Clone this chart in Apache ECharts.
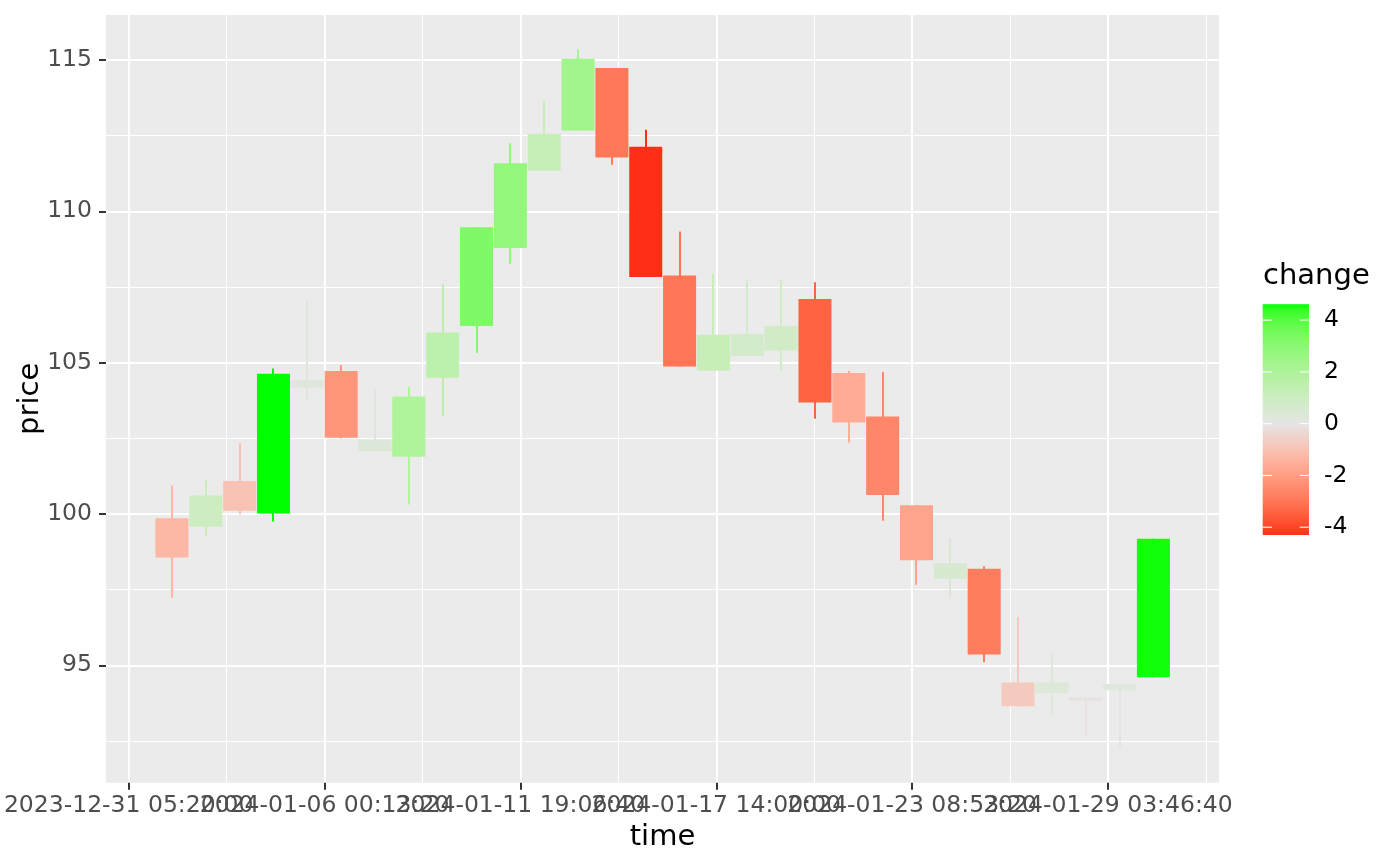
<!DOCTYPE html>
<html>
<head>
<meta charset="utf-8">
<script src="https://cdn.jsdelivr.net/npm/echarts@6.0.0/dist/echarts.min.js"></script>
<style>
html,body{margin:0;padding:0;background:#ffffff;}
#chart{width:1400px;height:866px;}
</style>
</head>
<body>
<div id="chart"></div>
<script>
// ---------- data ----------
const times = [
  '2024-01-01T12:00:00Z','2024-01-02T12:00:00Z','2024-01-03T12:00:00Z','2024-01-04T12:00:00Z','2024-01-05T12:00:00Z',
  '2024-01-06T12:00:00Z','2024-01-07T12:00:00Z','2024-01-08T12:00:00Z','2024-01-09T12:00:00Z','2024-01-10T12:00:00Z',
  '2024-01-11T12:00:00Z','2024-01-12T12:00:00Z','2024-01-13T12:00:00Z','2024-01-14T12:00:00Z','2024-01-15T12:00:00Z',
  '2024-01-16T12:00:00Z','2024-01-17T12:00:00Z','2024-01-18T12:00:00Z','2024-01-19T12:00:00Z','2024-01-20T12:00:00Z',
  '2024-01-21T12:00:00Z','2024-01-22T12:00:00Z','2024-01-23T12:00:00Z','2024-01-24T12:00:00Z','2024-01-25T12:00:00Z',
  '2024-01-26T12:00:00Z','2024-01-27T12:00:00Z','2024-01-28T12:00:00Z','2024-01-29T12:00:00Z','2024-01-30T12:00:00Z'
];
const openPrices  = [99.86, 99.58, 101.09, 100.02, 104.18, 104.72, 102.07, 101.89, 104.50, 106.21,
                     108.79, 111.35, 112.67, 114.73, 112.13, 107.88, 104.74, 105.22, 105.40, 107.10,
                     104.66, 103.22, 100.29, 97.86, 98.19, 94.43, 94.09, 93.94, 94.18, 94.61];
const closePrices = [98.56, 100.61, 100.11, 104.63, 104.43, 102.52, 102.45, 103.88, 106.00, 109.47,
                     111.59, 112.56, 115.04, 111.78, 107.83, 104.87, 105.92, 105.95, 106.21, 103.68,
                     103.02, 100.63, 98.47, 98.37, 95.36, 93.65, 94.44, 93.83, 94.38, 99.18];
const lowPrices   = [97.23, 99.25, 99.99, 99.75, 103.77, 102.49, 102.07, 100.31, 103.24, 105.33,
                     108.27, 111.35, 112.67, 111.54, 107.83, 104.87, 104.74, 105.22, 104.74, 103.15,
                     102.36, 99.78, 97.66, 97.23, 95.11, 93.65, 93.39, 92.66, 92.25, 94.61];
const highPrices  = [100.94, 101.12, 102.34, 104.81, 107.04, 104.92, 104.13, 104.20, 107.60, 109.47,
                     112.25, 113.67, 115.35, 114.73, 112.69, 109.33, 107.94, 107.72, 107.74, 107.66,
                     104.73, 104.69, 100.29, 99.21, 98.27, 96.60, 95.37, 93.94, 94.38, 99.18];

// axis breaks (seconds since epoch) and their labels
const xTickValues = [1704000000, 1704500000, 1705000000, 1705500000, 1706000000, 1706500000];
const xTickLabels = ['2023-12-31 05:20:00', '2024-01-06 00:13:20', '2024-01-11 19:06:40',
                     '2024-01-17 14:00:00', '2024-01-23 08:53:20', '2024-01-29 03:46:40'];
const yTickValues = [95, 100, 105, 110, 115];
const yTickLabels = ['95', '100', '105', '110', '115'];
const legendTickValues = [-4, -2, 0, 2, 4];
const legendTickLabels = ['-4', '-2', '0', '2', '4'];

// ---------- style constants ----------
const FONT = 'DejaVu Sans';
const X_MIN = 1703942050, X_MAX = 1706783470;
const Y_MIN = 91.123, Y_MAX = 116.485;
const BODY_SEC = 84300;
const LOW_COL = '#FF0000', MID_COL = '#E5E5E5', HIGH_COL = '#00FF00';

// ---------- derived ----------
const tSec = times.map(s => Date.parse(s) / 1000);
const changes = openPrices.map((o, i) => closePrices[i] - o);
const chgMin = Math.min(...changes), chgMax = Math.max(...changes);
const chgAbs = Math.max(Math.abs(chgMin), Math.abs(chgMax));
const candleData = tSec.map((t, i) => [t, openPrices[i], closePrices[i], lowPrices[i], highPrices[i]]);
const xMinorValues = xTickValues.map(v => v + 250000);
const yMinorValues = yTickValues.map(v => v - 2.5);
// labels split over two axes so that ECharts does not drop overlapping ones
const xLabelsEven = xTickValues.filter((v, i) => i % 2 === 0);
const xLabelsOdd = xTickValues.filter((v, i) => i % 2 === 1);

// ---------- Lab colour interpolation (like scales::gradient_n_pal) ----------
function hexToRgb(h) { h = h.replace('#', ''); return [0, 2, 4].map(i => parseInt(h.substr(i, 2), 16)); }
function lin(c) { c /= 255; return c <= 0.04045 ? c / 12.92 : Math.pow((c + 0.055) / 1.055, 2.4); }
function unlin(c) { const v = c <= 0.0031308 ? 12.92 * c : 1.055 * Math.pow(c, 1 / 2.4) - 0.055; return Math.round(Math.max(0, Math.min(1, v)) * 255); }
const XN = 0.95047, YN = 1.0, ZN = 1.08883;
function fLab(t) { return t > 0.008856 ? Math.cbrt(t) : 7.787 * t + 16 / 116; }
function fInv(t) { return t > 0.206893 ? t * t * t : (t - 16 / 116) / 7.787; }
function toLab(rgb) {
  const [r, g, b] = rgb.map(lin);
  const X = 0.4124564 * r + 0.3575761 * g + 0.1804375 * b;
  const Y = 0.2126729 * r + 0.7151522 * g + 0.0721750 * b;
  const Z = 0.0193339 * r + 0.1191920 * g + 0.9503041 * b;
  const fx = fLab(X / XN), fy = fLab(Y / YN), fz = fLab(Z / ZN);
  return [116 * fy - 16, 500 * (fx - fy), 200 * (fy - fz)];
}
function fromLab(lab) {
  const fy = (lab[0] + 16) / 116, fx = fy + lab[1] / 500, fz = fy - lab[2] / 200;
  const X = XN * fInv(fx), Y = YN * fInv(fy), Z = ZN * fInv(fz);
  const r = 3.2404542 * X - 1.5371385 * Y - 0.4985314 * Z;
  const g = -0.9692660 * X + 1.8760108 * Y + 0.0415560 * Z;
  const b = 0.0556434 * X - 0.2040259 * Y + 1.0572252 * Z;
  return [unlin(r), unlin(g), unlin(b)];
}
function rgbHex(c) { return '#' + c.map(v => v.toString(16).padStart(2, '0')).join(''); }
const labLow = toLab(hexToRgb(LOW_COL)), labMid = toLab(hexToRgb(MID_COL)), labHigh = toLab(hexToRgb(HIGH_COL));
function changeColor(v) {
  const t = Math.min(1, Math.abs(v) / chgAbs);
  const end = v < 0 ? labLow : labHigh;
  return rgbHex(fromLab([0, 1, 2].map(i => labMid[i] + (end[i] - labMid[i]) * t)));
}
function nearestLabel(values, labels, v) {
  let best = 0;
  values.forEach((tv, i) => { if (Math.abs(tv - v) < Math.abs(values[best] - v)) best = i; });
  return labels[best];
}

// ---------- chart ----------
const chart = echarts.init(document.getElementById('chart'), null, { renderer: 'canvas' });

const tickLabelStyle = { color: '#4D4D4D', fontSize: 23.5, fontFamily: FONT };
const titleStyle = { color: '#000000', fontSize: 29, fontFamily: FONT };

const option = {
  animation: false,
  backgroundColor: '#FFFFFF',
  title: {
    text: 'change', left: 1263, top: 262, padding: 0,
    textStyle: { color: '#000000', fontSize: 29, fontWeight: 'normal', fontFamily: FONT }
  },
  grid: [
    { left: 106, top: 15, width: 1113, height: 767.7, show: true, backgroundColor: '#EBEBEB', borderWidth: 0, containLabel: false, outerBoundsMode: 'none' },
    { left: 1262.7, top: 304.3, width: 46.3, height: 230.7, show: false, containLabel: false, outerBoundsMode: 'none' }
  ],
  xAxis: [
    {
      type: 'value', gridIndex: 0, min: X_MIN, max: X_MAX, position: 'bottom',
      axisLine: { show: false },
      axisTick: { show: true, customValues: xTickValues, length: 7, lineStyle: { color: '#333333', width: 2 } },
      axisLabel: {
        show: true, customValues: xLabelsEven, margin: 11, hideOverlap: false,
        showMinLabel: true, showMaxLabel: true, ...tickLabelStyle,
        formatter: v => nearestLabel(xTickValues, xTickLabels, v)
      },
      splitLine: { show: true, lineStyle: { color: '#FFFFFF', width: 2.1 } },
      name: 'time', nameLocation: 'middle', nameGap: 40, nameTextStyle: titleStyle
    },
    {
      type: 'value', gridIndex: 0, min: X_MIN, max: X_MAX, position: 'bottom', offset: 0,
      axisLine: { show: false },
      axisTick: { show: false, customValues: xMinorValues },
      axisLabel: {
        show: true, customValues: xLabelsOdd, margin: 11, hideOverlap: false,
        showMinLabel: true, showMaxLabel: true, ...tickLabelStyle,
        formatter: v => nearestLabel(xTickValues, xTickLabels, v)
      },
      splitLine: { show: true, lineStyle: { color: '#FFFFFF', width: 1.1 } }
    },
    { type: 'value', gridIndex: 1, min: 0, max: 1, show: false }
  ],
  yAxis: [
    {
      type: 'value', gridIndex: 0, min: Y_MIN, max: Y_MAX, position: 'left',
      axisLine: { show: false },
      axisTick: { show: true, customValues: yTickValues, length: 7, lineStyle: { color: '#333333', width: 2 } },
      axisLabel: {
        show: true, customValues: yTickValues, margin: 14,
        showMinLabel: true, showMaxLabel: true, ...tickLabelStyle,
        formatter: v => nearestLabel(yTickValues, yTickLabels, v)
      },
      splitLine: { show: true, lineStyle: { color: '#FFFFFF', width: 2.1 } },
      name: 'price', nameLocation: 'middle', nameGap: 61, nameRotate: 90, nameMoveOverlap: false,
      nameTextStyle: titleStyle
    },
    {
      type: 'value', gridIndex: 0, min: Y_MIN, max: Y_MAX, position: 'right',
      axisLine: { show: false },
      axisTick: { show: false, customValues: yMinorValues },
      axisLabel: { show: false, customValues: yMinorValues },
      splitLine: { show: true, lineStyle: { color: '#FFFFFF', width: 1.1 } }
    },
    {
      type: 'value', gridIndex: 1, min: chgMin, max: chgMax, position: 'right',
      axisLine: { show: false },
      axisTick: { show: false, customValues: legendTickValues },
      splitLine: { show: false },
      axisLabel: {
        show: true, customValues: legendTickValues, margin: 15,
        showMinLabel: true, showMaxLabel: true,
        color: '#000000', fontSize: 23.5, fontFamily: FONT,
        formatter: v => nearestLabel(legendTickValues, legendTickLabels, v)
      }
    }
  ],
  series: [
    {
      type: 'custom', name: 'candles', xAxisIndex: 0, yAxisIndex: 0,
      data: candleData,
      encode: { x: 0, y: [1, 2, 3, 4] },
      clip: true,
      renderItem: function (params, api) {
        const t = api.value(0), o = api.value(1), c = api.value(2), lo = api.value(3), hi = api.value(4);
        const pO = api.coord([t, o]), pC = api.coord([t, c]);
        const pL = api.coord([t, lo]), pH = api.coord([t, hi]);
        const w = api.size([BODY_SEC, 0])[0];
        const col = changeColor(c - o);
        const top = Math.min(pO[1], pC[1]);
        const h = Math.max(Math.abs(pO[1] - pC[1]), 1);
        const xw = Math.round(pH[0]);
        return {
          type: 'group',
          children: [
            { type: 'line', shape: { x1: xw, y1: pH[1], x2: xw, y2: pL[1] }, style: { stroke: col, lineWidth: 2 } },
            { type: 'rect', shape: { x: pO[0] - w / 2, y: top, width: w, height: h }, style: { fill: col } }
          ]
        };
      }
    },
    {
      type: 'custom', name: 'colourbar', xAxisIndex: 2, yAxisIndex: 2,
      data: [[0, chgMin, chgMax]],
      encode: { x: 0, y: [1, 2] },
      silent: true,
      renderItem: function (params, api) {
        const lo = api.value(1), hi = api.value(2);
        const pTop = api.coord([0, hi]), pBot = api.coord([1, lo]);
        const stops = [];
        const N = 40;
        for (let k = 0; k <= N; k++) {
          const v = hi - (hi - lo) * k / N;
          stops.push({ offset: k / N, color: changeColor(v) });
        }
        const children = [{
          type: 'rect',
          shape: { x: pTop[0], y: pTop[1], width: pBot[0] - pTop[0], height: pBot[1] - pTop[1] },
          style: { fill: { type: 'linear', x: 0, y: 0, x2: 0, y2: 1, colorStops: stops } }
        }];
        const tl = (pBot[0] - pTop[0]) * 0.2;
        legendTickValues.forEach(v => {
          const y = api.coord([0, v])[1];
          children.push({ type: 'line', shape: { x1: pTop[0], y1: y, x2: pTop[0] + tl, y2: y }, style: { stroke: '#FFFFFF', lineWidth: 1.1 } });
          children.push({ type: 'line', shape: { x1: pBot[0] - tl, y1: y, x2: pBot[0], y2: y }, style: { stroke: '#FFFFFF', lineWidth: 1.1 } });
        });
        return { type: 'group', children: children };
      }
    }
  ]
};
chart.setOption(option);
</script>
</body>
</html>
